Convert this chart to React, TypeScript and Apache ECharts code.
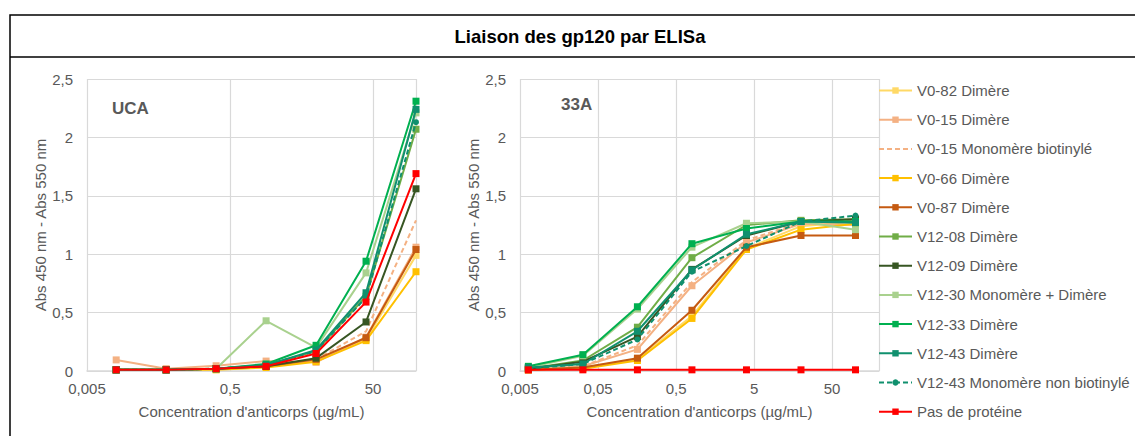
import React, { useEffect, useRef } from "react";
import * as echarts from "echarts";

// Antibody concentrations (µg/mL)
const concUCA = [0.0128, 0.064, 0.32, 1.6, 8, 40, 200];
const conc33A = [0.0064, 0.032, 0.16, 0.8, 4, 20, 100];

const seriesNames = [
  "V0-82 Dimère",
  "V0-15 Dimère",
  "V0-15 Monomère biotinylé",
  "V0-66 Dimère",
  "V0-87 Dimère",
  "V12-08 Dimère",
  "V12-09 Dimère",
  "V12-30 Monomère + Dimère",
  "V12-33 Dimère",
  "V12-43 Dimère",
  "V12-43 Monomère non biotinylé",
  "Pas de protéine",
];

const seriesColors = [
  "#FFD966",
  "#F4B183",
  "#F4B183",
  "#FFC000",
  "#C55A11",
  "#70AD47",
  "#375623",
  "#A9D18E",
  "#00B050",
  "#10906E",
  "#10906E",
  "#FF0000",
];

const dashed = [false, false, true, false, false, false, false, false, false, false, true, false];
const symbols = ["rect", "rect", "none", "rect", "rect", "rect", "rect", "rect", "rect", "rect", "circle", "rect"];

// UCA (left panel) values
const uca_V0_82 = [0.01, 0.01, 0.02, 0.04, 0.09, 0.27, 0.99];
const uca_V0_15 = [0.095, 0.02, 0.045, 0.085, 0.075, 0.29, 1.06];
const uca_V0_15m = [0.01, 0.01, 0.02, 0.04, 0.1, 0.34, 1.29];
const uca_V0_66 = [0.01, 0.01, 0.01, 0.03, 0.08, 0.26, 0.85];
const uca_V0_87 = [0.01, 0.01, 0.02, 0.04, 0.1, 0.285, 1.04];
const uca_V12_08 = [0.01, 0.01, 0.02, 0.05, 0.17, 0.64, 2.07];
const uca_V12_09 = [0.01, 0.01, 0.02, 0.04, 0.11, 0.42, 1.56];
const uca_V12_30 = [0.01, 0.01, 0.02, 0.43, 0.2, 0.84, 2.21];
const uca_V12_33 = [0.01, 0.01, 0.02, 0.06, 0.22, 0.94, 2.31];
const uca_V12_43 = [0.01, 0.01, 0.02, 0.05, 0.18, 0.67, 2.24];
const uca_V12_43m = [0.01, 0.01, 0.02, 0.05, 0.17, 0.63, 2.13];
const uca_none = [0.01, 0.01, 0.02, 0.04, 0.15, 0.59, 1.69];

// 33A (right panel) values
const a33_V0_82 = [0.01, 0.03, 0.1, 0.47, 1.05, 1.24, 1.28];
const a33_V0_15 = [0.01, 0.04, 0.185, 0.73, 1.1, 1.26, 1.25];
const a33_V0_15m = [0.01, 0.04, 0.22, 0.76, 1.12, 1.27, 1.29];
const a33_V0_66 = [0.01, 0.02, 0.09, 0.45, 1.04, 1.21, 1.26];
const a33_V0_87 = [0.01, 0.03, 0.11, 0.52, 1.06, 1.16, 1.16];
const a33_V12_08 = [0.02, 0.09, 0.375, 0.97, 1.25, 1.29, 1.3];
const a33_V12_09 = [0.02, 0.08, 0.295, 0.87, 1.16, 1.28, 1.3];
const a33_V12_30 = [0.03, 0.13, 0.53, 1.06, 1.265, 1.28, 1.21];
const a33_V12_33 = [0.04, 0.14, 0.55, 1.09, 1.22, 1.28, 1.28];
const a33_V12_43 = [0.03, 0.06, 0.34, 0.865, 1.17, 1.28, 1.27];
const a33_V12_43m = [0.02, 0.06, 0.27, 0.85, 1.07, 1.28, 1.33];
const a33_none = [0.01, 0.01, 0.01, 0.01, 0.01, 0.01, 0.01];

const ucaValues = [
  uca_V0_82, uca_V0_15, uca_V0_15m, uca_V0_66, uca_V0_87, uca_V12_08,
  uca_V12_09, uca_V12_30, uca_V12_33, uca_V12_43, uca_V12_43m, uca_none,
];
const a33Values = [
  a33_V0_82, a33_V0_15, a33_V0_15m, a33_V0_66, a33_V0_87, a33_V12_08,
  a33_V12_09, a33_V12_30, a33_V12_33, a33_V12_43, a33_V12_43m, a33_none,
];

const yTicks = ["0", "0,5", "1", "1,5", "2", "2,5"];

const FONT = "'Liberation Sans', Arial, sans-serif";
const GREY = "#595959";

function fmtX(v: number): string {
  if (v > 120) return "";
  const s = String(Number(v.toPrecision(1)));
  return s.replace(".", ",");
}

export default function App() {
  const ref = useRef<HTMLDivElement>(null);
  useEffect(() => {
    if (!ref.current) return;
    const chart = echarts.init(ref.current, undefined, { renderer: "svg" });

    const makeSeries = (gridIdx: number, conc: number[], vals: number[][]) =>
      seriesNames.map((name, i) => ({
        name,
        type: "line",
        xAxisIndex: gridIdx,
        yAxisIndex: gridIdx,
        data: conc.map((c, j) => [c, vals[i][j]]),
        symbol: symbols[i] === "none" ? "rect" : symbols[i],
        symbolSize: symbols[i] === "circle" ? 6 : 7,
        showSymbol: symbols[i] !== "none",
        lineStyle: { color: seriesColors[i], width: 2, type: dashed[i] ? [5, 3] : "solid" },
        itemStyle: { color: seriesColors[i] },
        z: 2 + i,
        silent: true,
      }));

    const xAxisBase = {
      type: "log",
      logBase: 10,
      min: 0.005,
      max: 200,
      name: "Concentration d'anticorps (µg/mL)",
      nameLocation: "middle",
      nameGap: 33,
      nameTextStyle: { color: GREY, fontSize: 15, fontFamily: FONT },
      axisLine: { show: true, lineStyle: { color: "#d9d9d9", width: 1.5 } },
      axisTick: { show: false },
      axisLabel: { color: GREY, fontSize: 15, fontFamily: FONT, margin: 10, formatter: fmtX },
      splitLine: { show: true, lineStyle: { color: "#d9d9d9", width: 1.2 } },
      minorTick: { show: false },
      minorSplitLine: { show: false },
    };

    const yAxisBase = {
      type: "value",
      min: 0,
      max: 2.5,
      interval: 0.5,
      name: "Abs 450 nm - Abs 550 nm",
      nameLocation: "middle",
      nameGap: 39,
      nameRotate: 90,
      nameTextStyle: { color: GREY, fontSize: 15, fontFamily: FONT },
      axisLine: { show: false },
      axisTick: { show: false },
      axisLabel: {
        color: GREY,
        fontSize: 15,
        fontFamily: FONT,
        margin: 14,
        formatter: (v: number) => yTicks[Math.round(v / 0.5)] ?? "",
      },
      splitLine: { show: true, lineStyle: { color: "#d9d9d9", width: 1.2 } },
    };

    const legendData = seriesNames.map((name, i) =>
      symbols[i] === "none" ? { name, itemStyle: { opacity: 0 } } : { name }
    );

    const option = {
      animation: false,
      textStyle: { fontFamily: FONT },
      grid: [
        { left: 87, top: 79, width: 329, height: 292 },
        { left: 520, top: 79, width: 359, height: 292 },
      ],
      xAxis: [
        { ...xAxisBase, gridIndex: 0, interval: 2 },
        { ...xAxisBase, gridIndex: 1, interval: 1 },
      ],
      yAxis: [
        { ...yAxisBase, gridIndex: 0 },
        { ...yAxisBase, gridIndex: 1 },
      ],
      legend: {
        orient: "vertical",
        left: 878,
        top: 82,
        padding: 0,
        itemWidth: 33,
        itemHeight: 8,
        itemGap: 12.2,
        data: legendData,
        textStyle: { color: GREY, fontSize: 15, fontFamily: FONT, lineHeight: 17 },
        selectedMode: false,
      },
      graphic: [
        {
          type: "rect",
          shape: { x: 10, y: 15, width: 1200, height: 500 },
          style: { fill: "none", stroke: "#000", lineWidth: 1.5 },
          silent: true,
        },
        {
          type: "line",
          shape: { x1: 10, y1: 57, x2: 1135, y2: 57 },
          style: { stroke: "#000", lineWidth: 1.5 },
          silent: true,
        },
        {
          type: "text",
          x: 580,
          y: 36,
          style: {
            text: "Liaison des gp120 par ELISa",
            fill: "#000",
            font: `bold 18.5px ${FONT}`,
            textAlign: "center",
            textVerticalAlign: "middle",
          },
        },
        {
          type: "text",
          x: 112,
          y: 108,
          style: {
            text: "UCA",
            fill: GREY,
            font: `bold 17px ${FONT}`,
            textAlign: "left",
            textVerticalAlign: "middle",
          },
        },
        {
          type: "text",
          x: 561,
          y: 104,
          style: {
            text: "33A",
            fill: GREY,
            font: `bold 17px ${FONT}`,
            textAlign: "left",
            textVerticalAlign: "middle",
          },
        },
      ],
      series: [...makeSeries(0, concUCA, ucaValues), ...makeSeries(1, conc33A, a33Values)],
    };

    chart.setOption(option as any);
    return () => chart.dispose();
  }, []);

  return (
    <div
      ref={ref}
      style={{ position: "fixed", left: 0, top: 0, width: 1135, height: 436, background: "#fff" }}
    />
  );
}
